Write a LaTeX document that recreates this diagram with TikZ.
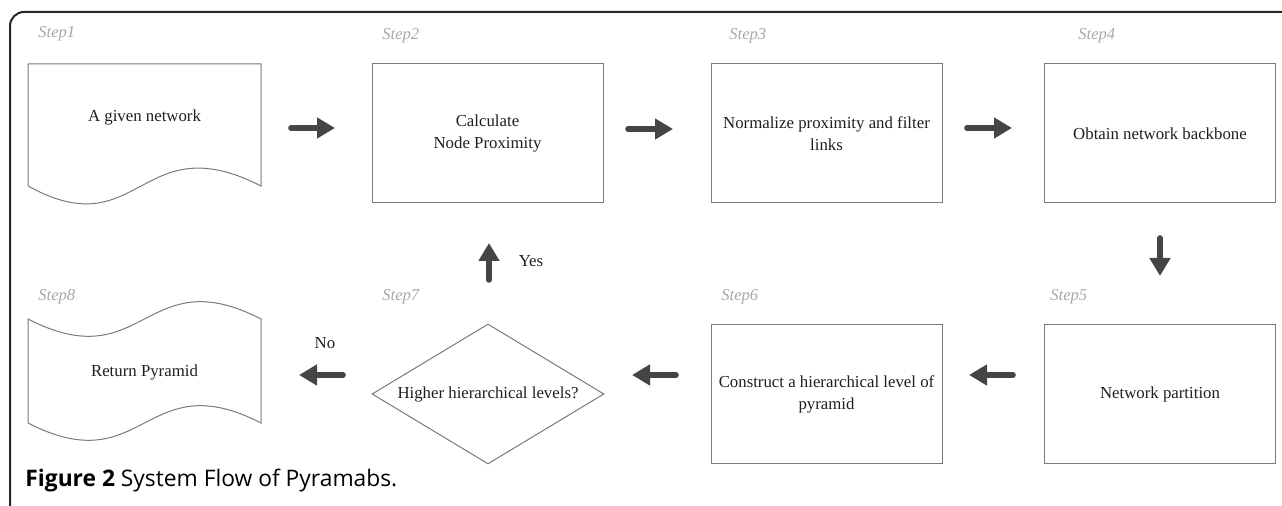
\documentclass[tikz,border=0pt]{standalone}
\usepackage{fontspec}
\setmainfont{Liberation Serif}
\newfontfamily\capfont{Open Sans}
\usetikzlibrary{arrows.meta,shapes.geometric}
\definecolor{boxline}{HTML}{7A7A7A}
\definecolor{arrowc}{HTML}{454545}
\definecolor{steplab}{HTML}{A8A8A8}
\definecolor{txt}{HTML}{1E1E1E}
\begin{document}
\begin{tikzpicture}[x=0.5pt,y=-0.5pt,
  stepbox/.style={draw=boxline,line width=0.5pt,minimum width=115.5pt,minimum height=69.5pt,inner sep=0pt,align=center,text=txt,font=\fontsize{8.4}{11}\selectfont},
  shapeline/.style={draw=boxline,line width=0.5pt},
  plaintext/.style={inner sep=0pt,align=center,text=txt,font=\fontsize{8.4}{11}\selectfont},
  steplabel/.style={inner sep=0pt,anchor=west,text=steplab,font=\fontsize{8.3}{10}\selectfont\itshape},
  bigarrow/.style={draw=arrowc,line width=2.8pt,line cap=round,-{Triangle[length=9pt,width=10pt]}}]
\useasboundingbox (0,0) rectangle (1282,506);
% frame
\draw[line width=1pt,color=black!85,rounded corners=7pt] (10,507) -- (10,12) -- (1284,12);
% step labels
\node[steplabel] (l1) at (38,34) {Step1};
\node[steplabel] (l2) at (382,36) {Step2};
\node[steplabel] (l3) at (729,36) {Step3};
\node[steplabel] (l4) at (1078,36) {Step4};
\node[steplabel] (l5) at (1050,297) {Step5};
\node[steplabel] (l6) at (721,297) {Step6};
\node[steplabel] (l7) at (382,297) {Step7};
\node[steplabel] (l8) at (38,297) {Step8};
% step 1 document shape
\draw[shapeline] (28,186) -- (28,64) -- (261,64) -- (261,186)
  .. controls (140,124) and (140,248) .. (28,186);
\node[plaintext] (s1) at (144.5,117) {A given network};
% boxes
\node[stepbox] (s2) at (487.5,133.5) {Calculate\\Node Proximity};
\node[stepbox] (s3) at (826.5,133.5) {Normalize proximity and filter\\links};
\node[stepbox] (s4) at (1160,133.5) {Obtain network backbone};
\node[stepbox] (s5) at (1160,394) {Network partition};
\node[stepbox] (s6) at (826.5,394) {Construct a hierarchical level of\\pyramid};
\node[draw=boxline,line width=0.5pt,diamond,shape aspect=1.66,minimum width=116pt,minimum height=70pt,inner sep=0pt,text=txt,font=\fontsize{8.4}{11}\selectfont] (s7) at (488,394) {Higher hierarchical levels?};
% step 8 wave shape
\draw[shapeline] (28,319) .. controls (144.5,379) and (144.5,259) .. (261,319)
  -- (261,423) .. controls (144.5,363) and (144.5,483) .. (28,423) -- cycle;
\node[plaintext] (s8) at (144.5,372) {Return Pyramid};
% arrows
\coordinate (a1s) at (291,128); \coordinate (a1e) at (335,128);
\coordinate (a2s) at (628,129); \coordinate (a2e) at (673,129);
\coordinate (a3s) at (967,128); \coordinate (a3e) at (1012,128);
\coordinate (a4s) at (1160,238); \coordinate (a4e) at (1160,276);
\coordinate (a5s) at (1013,375); \coordinate (a5e) at (969,375);
\coordinate (a6s) at (676,375); \coordinate (a6e) at (632,375);
\coordinate (a7s) at (343,375); \coordinate (a7e) at (299,375);
\coordinate (a8s) at (489,280); \coordinate (a8e) at (489,243);
\draw[bigarrow] (a1s) -- (a1e);
\draw[bigarrow] (a2s) -- (a2e);
\draw[bigarrow] (a3s) -- (a3e);
\draw[bigarrow] (a4s) -- (a4e);
\draw[bigarrow] (a5s) -- (a5e);
\draw[bigarrow] (a6s) -- (a6e);
\draw[bigarrow] (a7s) -- (a7e);
\draw[bigarrow] (a8s) -- (a8e);
\node[plaintext] (yes) at (531,261) {Yes};
\node[plaintext] (no) at (325,343) {No};
% caption
\node[inner sep=0pt,anchor=base west,text=black,font=\fontsize{11.4}{13}\capfont] (cap) at (25,487) {\textbf{Figure 2} System Flow of Pyramabs.};
\end{tikzpicture}
\end{document}
